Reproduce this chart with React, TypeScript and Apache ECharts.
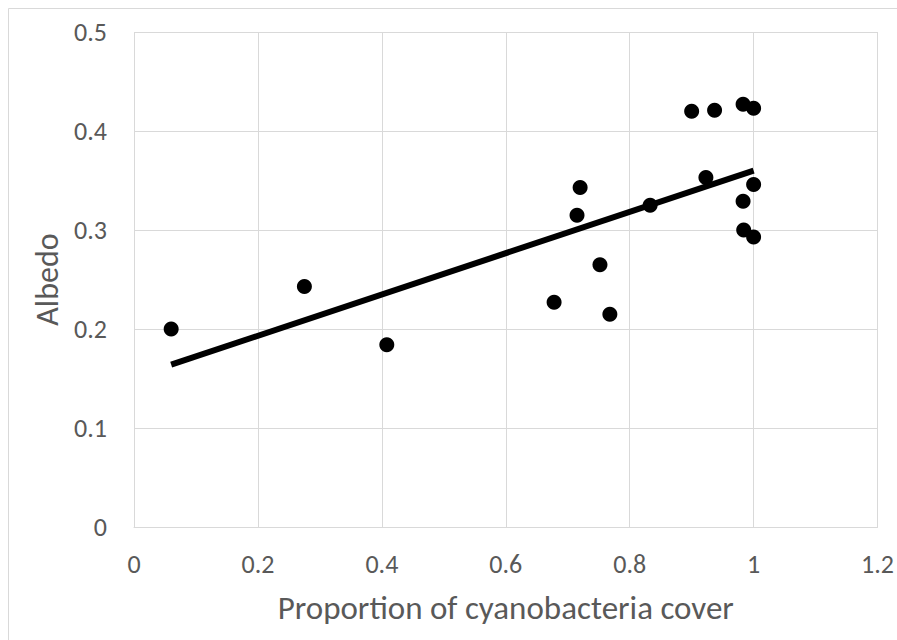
import React, { useEffect, useRef } from "react";
import * as echarts from "echarts";

const coverValues = [0.06, 0.275, 0.408, 0.678, 0.715, 0.72, 0.752, 0.768, 0.833, 0.9, 0.923, 0.937, 0.983, 1.0, 0.983, 0.984, 1.0, 1.0];
const albedoValues = [0.2, 0.243, 0.184, 0.227, 0.315, 0.343, 0.265, 0.215, 0.325, 0.42, 0.353, 0.421, 0.427, 0.423, 0.329, 0.3, 0.293, 0.346];
const trendX = [0.06, 1.0];
const trendY = [0.164, 0.36];

export default function App() {
  const ref = useRef<HTMLDivElement>(null);
  useEffect(() => {
    if (!ref.current) return;
    const chart = echarts.init(ref.current, undefined, { renderer: "svg" });
    const font = "Carlito, 'Liberation Sans Narrow', Lato, 'Open Sans', sans-serif";
    chart.setOption({
      animation: false,
      backgroundColor: "#fff",
      graphic: [
        {
          type: "rect",
          shape: { x: 8.5, y: 8.5, width: 1200, height: 1200 },
          style: { fill: "none", stroke: "#d9d9d9", lineWidth: 1 },
          silent: true,
        },
      ],
      grid: { left: 134, top: 32, right: 18, bottom: 113, containLabel: false },
      xAxis: {
        type: "value",
        min: 0,
        max: 1.2,
        interval: 0.2,
        name: "Proportion of cyanobacteria cover",
        nameLocation: "middle",
        nameGap: 64,
        nameTextStyle: { color: "#595959", fontSize: 33, fontFamily: font },
        axisLine: { show: true, lineStyle: { color: "#d9d9d9", width: 1 } },
        axisTick: { show: false },
        splitLine: { show: true, lineStyle: { color: "#d9d9d9", width: 1 } },
        axisLabel: {
          color: "#595959",
          fontSize: 26,
          fontFamily: font,
          margin: 24,
          formatter: (v: number) => String(Math.round(v * 10) / 10),
        },
      },
      yAxis: {
        type: "value",
        min: 0,
        max: 0.5,
        interval: 0.1,
        name: "Albedo",
        nameLocation: "middle",
        nameGap: 66,
        nameTextStyle: { color: "#595959", fontSize: 32, fontFamily: font },
        axisLine: { show: false },
        axisTick: { show: false },
        splitLine: { show: true, lineStyle: { color: "#d9d9d9", width: 1 } },
        axisLabel: {
          color: "#595959",
          fontSize: 26,
          fontFamily: font,
          margin: 27,
          formatter: (v: number) => String(Math.round(v * 10) / 10),
        },
      },
      series: [
        {
          type: "line",
          data: trendX.map((x, i) => [x, trendY[i]]),
          showSymbol: false,
          symbol: "none",
          lineStyle: { color: "#000", width: 6 },
          z: 2,
        },
        {
          type: "scatter",
          data: coverValues.map((x, i) => [x, albedoValues[i]]),
          symbol: "circle",
          symbolSize: 15,
          itemStyle: { color: "#000", opacity: 1 },
          z: 3,
        },
      ],
    });
    return () => chart.dispose();
  }, []);
  return (
    <div
      ref={ref}
      style={{ position: "absolute", left: 0, top: 0, width: 897, height: 640 }}
    />
  );
}
